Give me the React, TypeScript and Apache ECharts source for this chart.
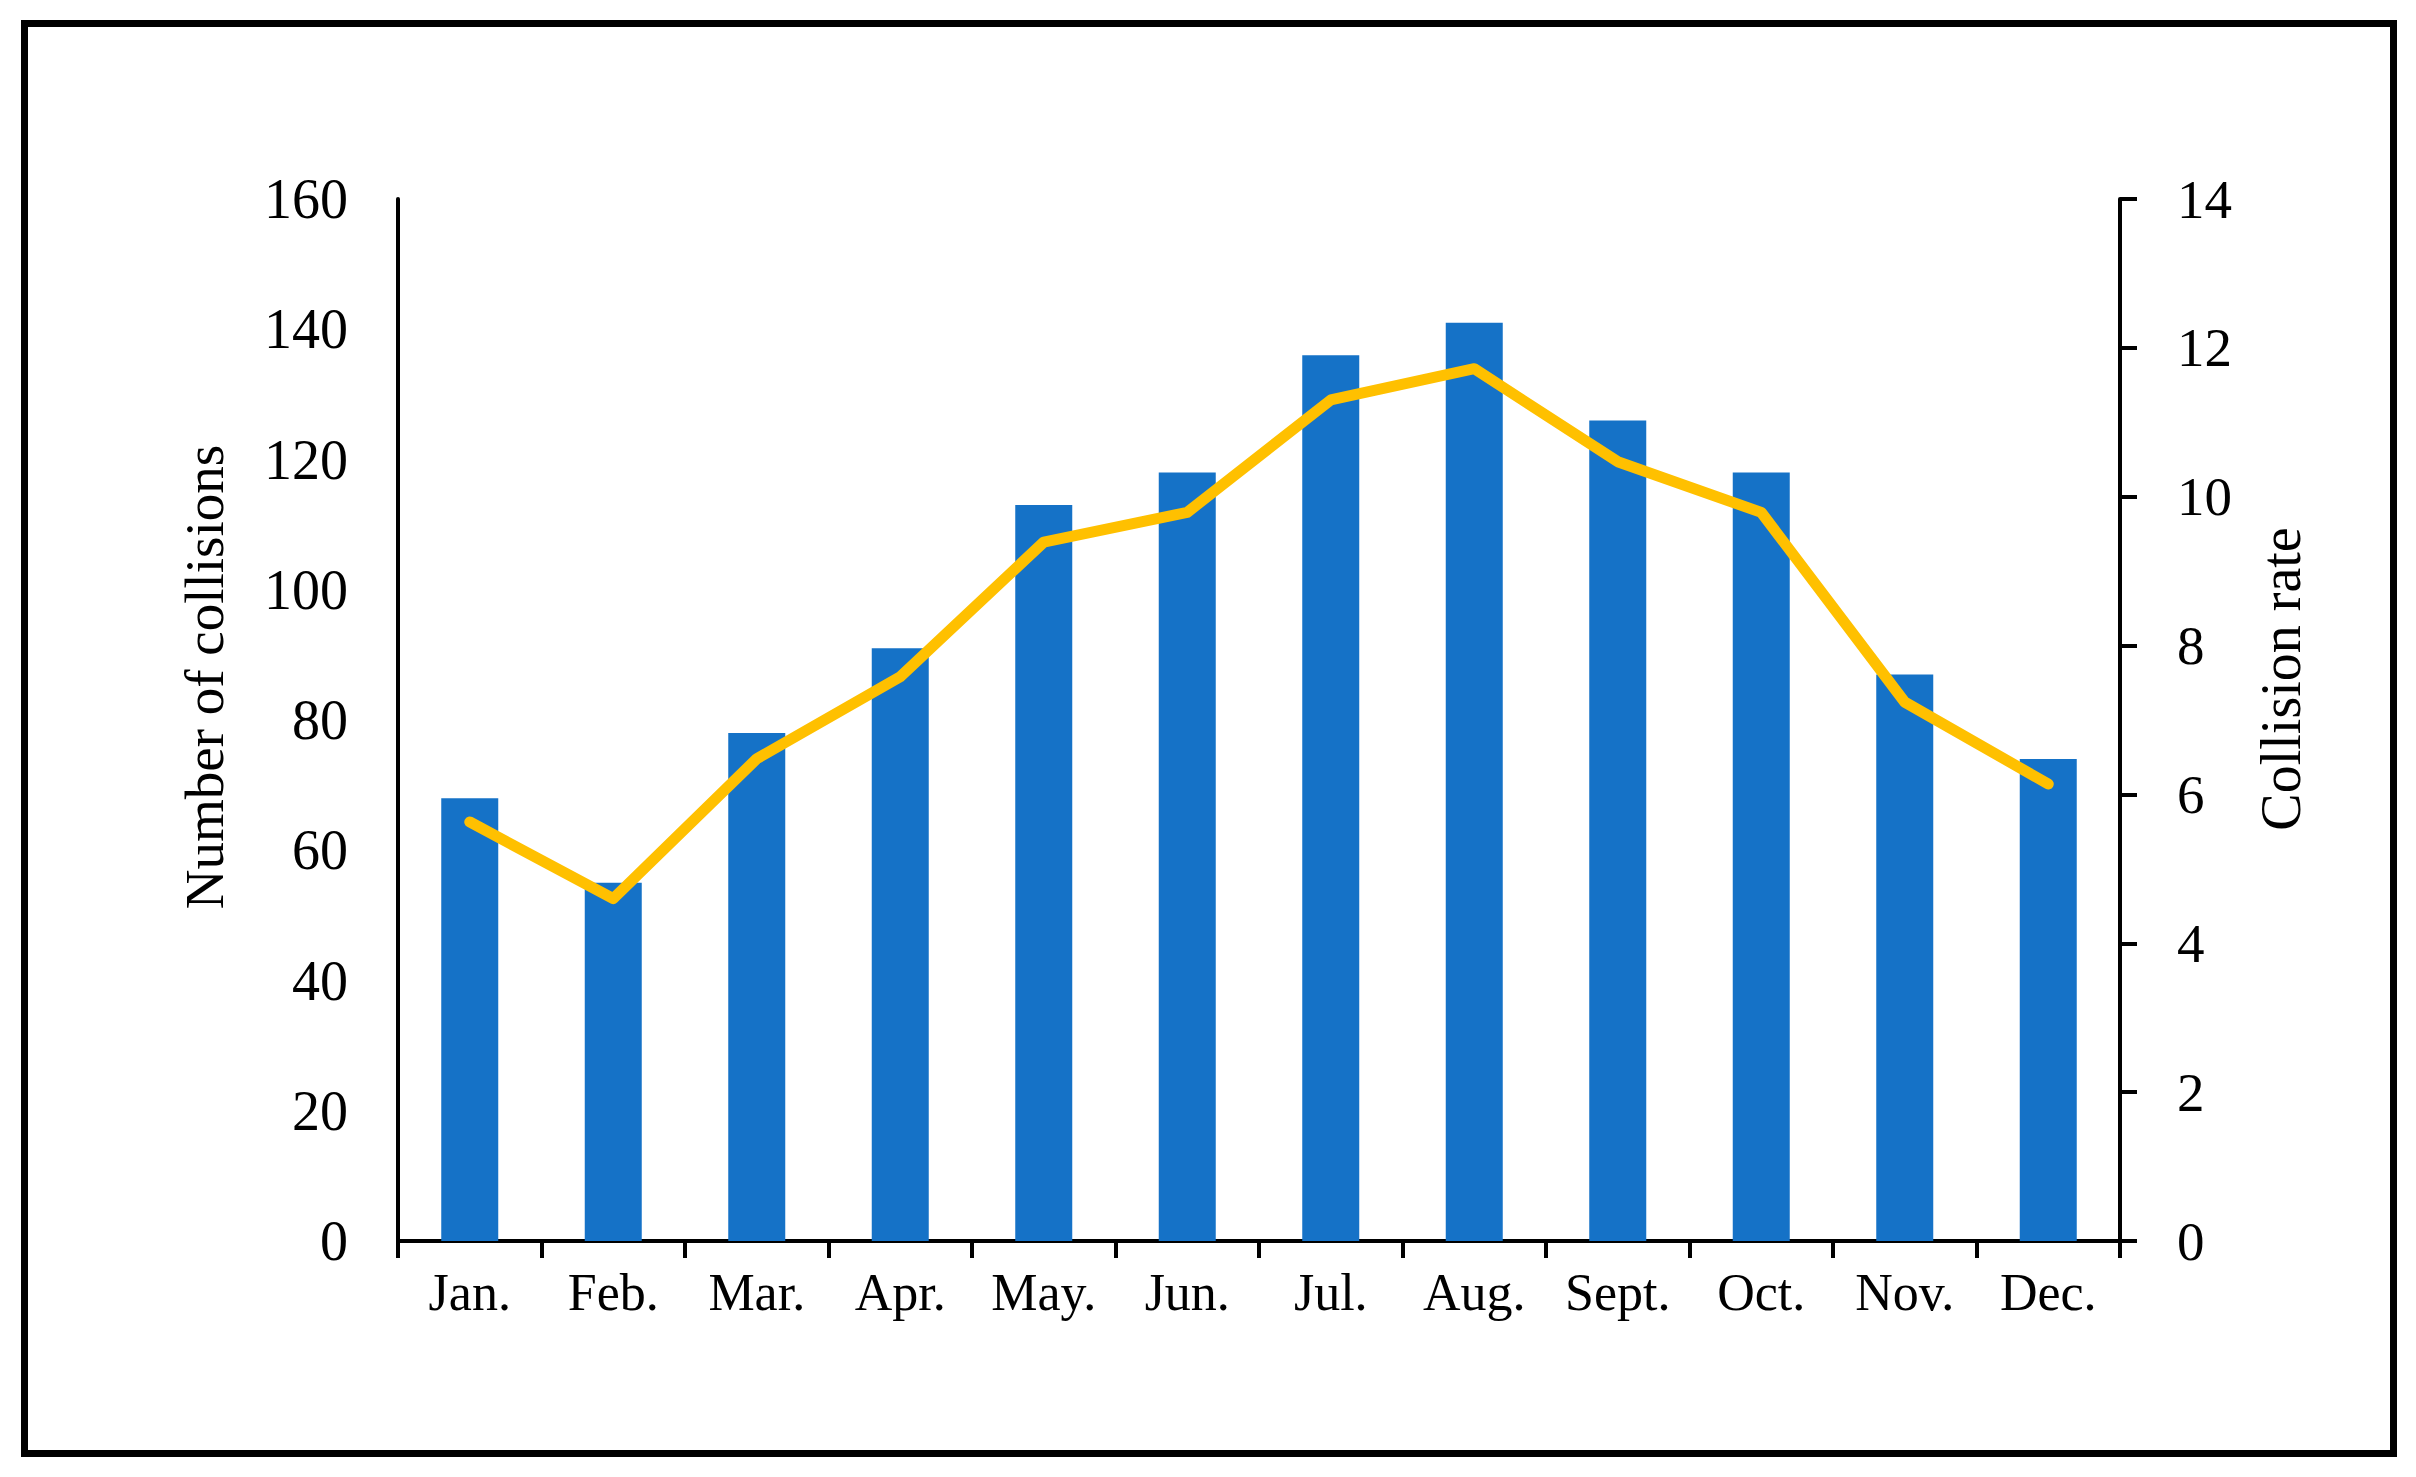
import React, { useEffect, useRef } from "react";
import * as echarts from "echarts";

const months = ["Jan.", "Feb.", "Mar.", "Apr.", "May.", "Jun.", "Jul.", "Aug.", "Sept.", "Oct.", "Nov.", "Dec."];
const collisions = [68, 55, 78, 91, 113, 118, 136, 141, 126, 118, 87, 74];
const collisionRate = [5.63, 4.6, 6.48, 7.58, 9.39, 9.79, 11.3, 11.72, 10.47, 9.79, 7.24, 6.14];
const leftAxisName = "Number of collisions";
const rightAxisName = "Collision rate";

const FONT = '"Liberation Serif", "Times New Roman", serif';

export default function App() {
  const ref = useRef<HTMLDivElement>(null);

  useEffect(() => {
    if (!ref.current) return;
    const chart = echarts.init(ref.current, null, { renderer: "svg" });
    chart.setOption({
      animation: false,
      backgroundColor: "#ffffff",
      textStyle: { fontFamily: FONT },
      grid: { left: 398, right: 296, top: 199, bottom: 236, containLabel: false },
      xAxis: {
        type: "category",
        data: months,
        boundaryGap: true,
        axisLine: { show: true, lineStyle: { color: "#000", width: 4 } },
        axisTick: { show: true, inside: false, length: 17, alignWithLabel: false, lineStyle: { color: "#000", width: 4 } },
        axisLabel: { color: "#000", fontSize: 52, fontFamily: FONT, margin: 25, interval: 0 },
        splitLine: { show: false },
      },
      yAxis: [
        {
          type: "value",
          min: 0,
          max: 160,
          interval: 20,
          position: "left",
          axisLine: { show: true, lineStyle: { color: "#000", width: 4 } },
          axisTick: { show: false },
          axisLabel: { color: "#000", fontSize: 56, fontFamily: FONT, margin: 50 },
          splitLine: { show: false },
        },
        {
          type: "value",
          min: 0,
          max: 14,
          interval: 2,
          position: "right",
          axisLine: { show: true, lineStyle: { color: "#000", width: 4 } },
          axisTick: { show: true, inside: false, length: 17, lineStyle: { color: "#000", width: 4 } },
          axisLabel: { color: "#000", fontSize: 55, fontFamily: FONT, margin: 57 },
          splitLine: { show: false },
        },
      ],
      series: [
        {
          type: "bar",
          data: collisions,
          yAxisIndex: 0,
          barWidth: 57,
          itemStyle: { color: "#1572C7" },
          z: 2,
        },
        {
          type: "line",
          data: collisionRate,
          yAxisIndex: 1,
          symbol: "none",
          smooth: false,
          lineStyle: { color: "#FFC000", width: 11, cap: "round", join: "round" },
          z: 3,
        },
      ],
      graphic: [
        {
          type: "rect",
          shape: { x: 24.5, y: 23.5, width: 2369, height: 1430 },
          style: { fill: "none", stroke: "#000", lineWidth: 7 },
          silent: true,
        },
        {
          type: "text",
          x: 204,
          y: 677,
          rotation: Math.PI / 2,
          style: {
            text: leftAxisName,
            fontSize: 55,
            fontFamily: FONT,
            fill: "#000",
            align: "center",
            verticalAlign: "middle",
          },
        },
        {
          type: "text",
          x: 2281,
          y: 679,
          rotation: Math.PI / 2,
          style: {
            text: rightAxisName,
            fontSize: 56,
            fontFamily: FONT,
            fill: "#000",
            align: "center",
            verticalAlign: "middle",
          },
        },
      ],
    });
    return () => chart.dispose();
  }, []);

  return (
    <div
      ref={ref}
      style={{ position: "fixed", left: 0, top: 0, width: 2416, height: 1477, background: "#fff" }}
    />
  );
}
